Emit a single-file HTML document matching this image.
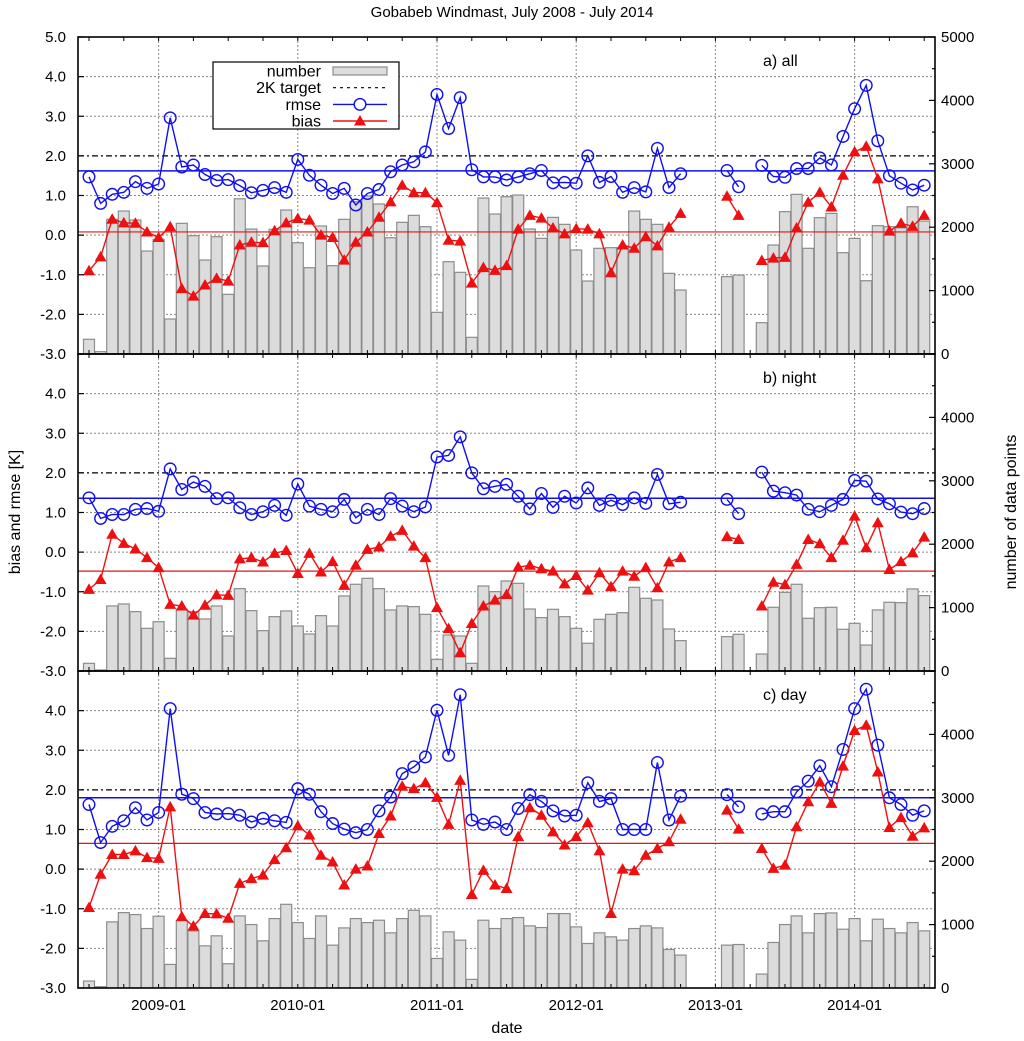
<!DOCTYPE html>
<html><head><meta charset="utf-8"><style>
html,body{margin:0;padding:0;background:#fff;}
svg{display:block;font-family:"Liberation Sans",Arial,sans-serif;}
</style></head><body>
<svg id="chart" width="1024" height="1041" viewBox="0 0 1024 1041" xmlns="http://www.w3.org/2000/svg">
<text x="512" y="17" font-size="15" text-anchor="middle">Gobabeb Windmast, July 2008 - July 2014</text>
<text x="507" y="1033" font-size="16" text-anchor="middle">date</text>
<text transform="translate(20,512) rotate(-90)" font-size="16" text-anchor="middle">bias and rmse [K]</text>
<text transform="translate(1016,512) rotate(-90)" font-size="16" text-anchor="middle">number of data points</text>
<g id="layers"></g>
</svg>
<script>
const xLabels = ["2009-01","2010-01","2011-01","2012-01","2013-01","2014-01"];
const xLabelIdx = [6,18,30,42,54,66];
const panelNames = ["a) all","b) night","c) day"];
const aCount = [232,37,2124,2255,2113,1624,1808,552,2061,1866,1482,1850,941,2449,1971,1388,1966,2271,1755,1361,2019,1393,2124,2402,2492,2366,1834,2077,2187,2008,657,1456,1288,263,2460,2208,2481,2507,1971,1824,2155,2045,1640,1151,1667,1677,1677,2255,2124,2045,1272,1009,null,null,null,1220,1245,null,494,1719,2245,2518,1667,2150,2218,1598,1824,1156,2024,2008,1990,2323,2097];
const aRmse = [1.47,0.80,1.03,1.08,1.35,1.18,1.29,2.96,1.72,1.77,1.53,1.38,1.40,1.25,1.07,1.13,1.20,1.08,1.91,1.51,1.26,1.05,1.18,0.76,1.05,1.15,1.60,1.77,1.85,2.10,3.55,2.69,3.47,1.65,1.47,1.47,1.39,1.47,1.55,1.63,1.32,1.33,1.31,2.0,1.33,1.48,1.08,1.20,1.09,2.19,1.2,1.55,null,null,null,1.63,1.22,null,1.76,1.48,1.46,1.68,1.68,1.95,1.77,2.49,3.19,3.78,2.38,1.5,1.31,1.14,1.26];
const aBias = [-0.90,-0.55,0.40,0.31,0.30,0.08,-0.06,0.21,-1.35,-1.54,-1.26,-1.09,-1.16,-0.25,-0.18,-0.19,0.11,0.31,0.42,0.38,0.0,-0.06,-0.63,-0.18,0.08,0.45,0.84,1.26,1.07,1.07,0.82,-0.13,-0.15,-1.21,-0.82,-0.89,-0.77,0.15,0.50,0.43,0.18,0.03,0.16,0.15,0.03,-0.95,-0.25,-0.33,-0.04,-0.27,0.2,0.55,null,null,null,0.98,0.5,null,-0.64,-0.58,-0.56,0.18,0.83,1.08,0.71,1.51,2.1,2.24,1.42,0.10,0.30,0.22,0.50];
const bCount = [121,16,1026,1057,936,673,778,200,973,936,821,1026,552,1299,952,636,857,947,710,584,873,710,1184,1368,1462,1299,963,1026,1015,894,184,568,552,121,1341,1252,1420,1383,978,842,973,857,673,437,815,894,920,1320,1147,1120,663,479,null,null,null,542,579,null,268,1005,1241,1368,831,999,1005,658,752,410,963,1084,1078,1294,1189];
const bRmse = [1.37,0.85,0.95,0.95,1.08,1.10,1.03,2.10,1.58,1.77,1.66,1.35,1.37,1.12,0.95,1.02,1.18,0.93,1.72,1.16,1.08,1.02,1.33,0.87,1.08,0.95,1.35,1.16,1.02,1.14,2.40,2.44,2.91,2.0,1.60,1.66,1.71,1.41,1.09,1.48,1.13,1.41,1.24,1.62,1.18,1.31,1.20,1.37,1.23,1.96,1.22,1.26,null,null,null,1.33,0.97,null,2.02,1.54,1.50,1.44,1.08,1.02,1.18,1.33,1.81,1.79,1.34,1.22,1.01,0.97,1.10];
const bBias = [-0.94,-0.69,0.45,0.22,0.08,-0.14,-0.39,-1.32,-1.36,-1.59,-1.34,-1.08,-1.09,-0.17,-0.14,-0.25,-0.03,0.04,-0.54,-0.03,-0.50,-0.24,-0.84,-0.33,0.07,0.13,0.40,0.55,0.15,-0.14,-1.40,-1.93,-2.54,-1.80,-1.36,-1.21,-1.07,-0.38,-0.33,-0.42,-0.48,-0.80,-0.59,-0.96,-0.52,-0.87,-0.48,-0.61,-0.39,-0.90,-0.25,-0.14,null,null,null,0.39,0.32,null,-1.36,-0.76,-0.82,-0.31,0.32,0.21,-0.14,0.30,0.91,0.11,0.74,-0.44,-0.24,-0.02,0.38];
const cCount = [110,21,1043,1189,1158,938,1132,372,1069,901,665,823,383,1137,1001,744,1095,1320,1032,781,1137,676,948,1095,1032,1069,870,1095,1226,1137,466,886,755,136,1069,938,1095,1111,980,954,1174,1174,964,702,870,807,755,938,980,948,608,519,null,null,null,676,686,null,220,718,1001,1137,870,1174,1184,927,1095,744,1085,938,870,1032,901];
const cRmse = [1.63,0.67,1.08,1.22,1.55,1.24,1.43,4.05,1.89,1.78,1.43,1.39,1.40,1.36,1.19,1.28,1.22,1.18,2.03,1.89,1.45,1.15,1.01,0.92,1.0,1.47,1.82,2.41,2.58,2.83,4.01,2.87,4.40,1.24,1.13,1.19,1.0,1.53,1.88,1.71,1.47,1.34,1.36,2.18,1.71,1.78,1.0,1.0,1.0,2.69,1.24,1.84,null,null,null,1.88,1.57,null,1.39,1.45,1.45,1.95,2.22,2.61,2.08,3.02,4.05,4.54,3.13,1.80,1.63,1.36,1.47];
const cBias = [-0.97,-0.13,0.37,0.37,0.46,0.29,0.27,1.57,-1.20,-1.44,-1.12,-1.13,-1.24,-0.36,-0.24,-0.15,0.24,0.54,1.09,0.86,0.35,0.18,-0.40,0.0,0.08,0.90,1.34,2.09,2.03,2.18,1.81,1.13,2.24,-0.64,-0.03,-0.40,-0.49,0.82,1.55,1.36,0.94,0.61,0.82,1.17,0.46,-1.12,0.0,-0.04,0.35,0.52,0.69,1.26,null,null,null,1.49,1.01,null,0.52,0.02,0.10,1.07,1.70,2.20,1.66,2.60,3.50,3.63,2.45,1.05,1.30,0.83,1.04];
const meanRmse = [1.62,1.36,1.80];
const meanBias = [0.08,-0.48,0.65];
const leftTicks = [5,4,3,2,1,0,-1,-2,-3];
const rightTicks = [0,1000,2000,3000,4000,5000];
const target = 2.0;

const NS = "http://www.w3.org/2000/svg";
const root = document.getElementById("layers");
const X0 = 78, X1 = 935;
const panelTops = [37,354,671];
const PH = 317;
function xs(i){ return 89 + 11.6*i; }
function mk(tag, attrs, parent){ const e=document.createElementNS(NS,tag); for(const k in attrs) e.setAttribute(k,attrs[k]); (parent||root).appendChild(e); return e; }

const counts=[aCount,bCount,cCount], rmses=[aRmse,bRmse,cRmse], biases=[aBias,bBias,cBias];

panelTops.forEach((top,p)=>{
  const bot = top+PH;
  const ys = v => bot - (v+3)/8*PH;
  const yc = v => bot - v/5000*PH;
  const g = mk("g",{});
  
  
  const clipId="clip"+p;
  const cp = mk("clipPath",{id:clipId},g);
  mk("rect",{x:X0,y:top,width:X1-X0,height:PH},cp);
  const inner = mk("g",{"clip-path":"url(#"+clipId+")"},g);
  // grid
  for(let v=-2; v<=4; v++){
    if(v===target) continue;
    const l = mk("line",{x1:X0,x2:X1,y1:ys(v),y2:ys(v),stroke:"#888","stroke-width":1,"stroke-dasharray":"2,2"},inner);
    
    
  }
  xLabelIdx.forEach(i=>{
    const l = mk("line",{x1:xs(i),x2:xs(i),y1:top,y2:bot,stroke:"#888","stroke-width":1,"stroke-dasharray":"2,2"},inner);
    
    
  });
  // bars
  counts[p].forEach((c,i)=>{
    if(c===null) return;
    const r = mk("rect",{x:xs(i)-5.5,y:yc(c),width:11,height:bot-yc(c),fill:"#dcdcdc",stroke:"#8c8c8c","stroke-width":1.2},inner);
    
    
  });
  // target
  const t = mk("line",{x1:X0,x2:X1,y1:ys(target),y2:ys(target),stroke:"#000","stroke-width":1.2,"stroke-dasharray":"6,3,2,3"},inner);
  
  
  const mr = mk("line",{x1:X0,x2:X1,y1:ys(meanRmse[p]),y2:ys(meanRmse[p]),stroke:"#1010ee","stroke-width":1.5},inner);
  
  
  const mb = mk("line",{x1:X0,x2:X1,y1:ys(meanBias[p]),y2:ys(meanBias[p]),stroke:"#ee1010","stroke-width":1.2},inner);
  
  
  // series
  function series(arr,color,name,marker){
    let d="", pen=false;
    arr.forEach((v,i)=>{ if(v===null){pen=false;return;} d += (pen?"L":"M")+xs(i).toFixed(1)+","+ys(v).toFixed(1); pen=true; });
    const path = mk("path",{d:d,fill:"none",stroke:color,"stroke-width":1.4},inner);
    
    
    arr.forEach((v,i)=>{
      if(v===null) return;
      const cx=xs(i), cy=ys(v);
      let m;
      if(marker==="circle") m = mk("circle",{cx:cx,cy:cy,r:5.8,fill:"none",stroke:color,"stroke-width":1.4},inner);
      else m = mk("polygon",{points:(cx-6)+","+(cy+4.5)+" "+(cx+6)+","+(cy+4.5)+" "+cx+","+(cy-6),fill:color},inner);
      
      
    });
  }
  series(rmses[p],"#1010ee","rmse","circle");
  series(biases[p],"#ee1010","bias","tri");
  // frame
  const fr = mk("rect",{x:X0,y:top,width:X1-X0,height:PH,fill:"none",stroke:"#000","stroke-width":1.6},g);
  
  
  // ticks
  for(let v=-3; v<=5; v++){ mk("line",{x1:X0,x2:X0+6,y1:ys(v),y2:ys(v),stroke:"#000","stroke-width":1.2},g); }
  for(let c=0;c<=5000;c+=500){ const len = c%1000===0?6:3; mk("line",{x1:X1-len,x2:X1,y1:yc(c),y2:yc(c),stroke:"#000","stroke-width":1.2},g); }
  for(let i=0;i<=72;i+=3){ mk("line",{x1:xs(i),x2:xs(i),y1:bot,y2:bot-4,stroke:"#000","stroke-width":1},g); mk("line",{x1:xs(i),x2:xs(i),y1:top,y2:top+4,stroke:"#000","stroke-width":1},g); }
  // left labels
  leftTicks.forEach(v=>{
    if(p>0 && v===5) return;
    const tx = mk("text",{x:66,y:ys(v)+5,"font-size":15,"text-anchor":"end"},g);
    tx.textContent = v.toFixed(1);
    
    
  });
  rightTicks.forEach(c=>{
    if(p>0 && c===5000) return;
    const tx = mk("text",{x:941,y:yc(c)+5,"font-size":15,"text-anchor":"start"},g);
    tx.textContent = String(c);
    
    
  });
  const pl = mk("text",{x:763,y:top+29,"font-size":16},g);
  pl.textContent = panelNames[p];
  
  
});
// x labels
xLabelIdx.forEach((i,k)=>{
  const tx = mk("text",{x:xs(i),y:1010,"font-size":15,"text-anchor":"middle"});
  tx.textContent = xLabels[k];
  
  
});
// legend
const lg = mk("g",{});


mk("rect",{x:213,y:62,width:186,height:67,fill:"#fff",stroke:"#000","stroke-width":1.2},lg);
const items=["number","2K target","rmse","bias"];
items.forEach((t,k)=>{
  const y = 71 + k*16.7;
  const tx = mk("text",{x:321,y:y+5.5,"font-size":16,"text-anchor":"end"},lg);
  tx.textContent = t;
  
  
});
mk("rect",{x:333,y:67,width:54,height:8,fill:"#dcdcdc",stroke:"#8c8c8c","stroke-width":1.2},lg);
mk("line",{x1:333,x2:387,y1:87.7,y2:87.7,stroke:"#000","stroke-width":1.2,"stroke-dasharray":"3,4"},lg);
mk("line",{x1:333,x2:387,y1:104.4,y2:104.4,stroke:"#1010ee","stroke-width":1.4},lg);
mk("circle",{cx:360,cy:104.4,r:5.8,fill:"#fff",stroke:"#1010ee","stroke-width":1.4},lg);
mk("line",{x1:333,x2:387,y1:121,y2:121,stroke:"#ee1010","stroke-width":1.4},lg);
mk("polygon",{points:"354,125.5 366,125.5 360,115",fill:"#ee1010"},lg);
</script>
</body></html>
